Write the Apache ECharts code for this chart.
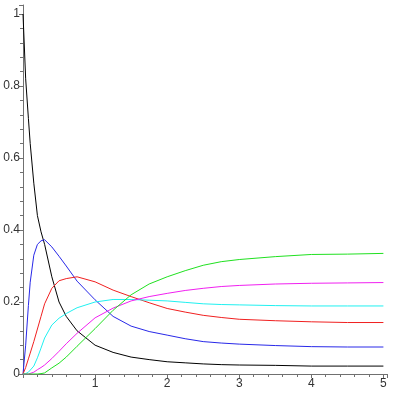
<!DOCTYPE html>
<html><head><meta charset="utf-8">
<script src="https://cdn.jsdelivr.net/npm/echarts@6/dist/echarts.min.js"></script>
<style>html,body{margin:0;padding:0;background:#fff}#c{width:393px;height:393px}</style>
</head><body><div id="c"></div>
<script>
const xs      = [0, 0.037, 0.075, 0.1, 0.15, 0.2, 0.25, 0.3, 0.4, 0.5, 0.6, 0.75, 1, 1.25, 1.5, 1.75, 2, 2.25, 2.5, 2.75, 3, 3.5, 4, 4.5, 5];
const black   = [1, 0.82, 0.71, 0.64, 0.53, 0.44, 0.395, 0.36, 0.27, 0.2, 0.16, 0.12, 0.08, 0.06, 0.047, 0.04, 0.034, 0.031, 0.028, 0.026, 0.025, 0.024, 0.022, 0.022, 0.022];
const blue    = [0, 0.08, 0.19, 0.255, 0.33, 0.36, 0.37, 0.373, 0.353, 0.327, 0.3, 0.258, 0.206, 0.16, 0.133, 0.118, 0.108, 0.098, 0.09, 0.086, 0.083, 0.079, 0.076, 0.075, 0.075];
const red     = [0, 0.018, 0.042, 0.058, 0.09, 0.125, 0.16, 0.195, 0.238, 0.259, 0.265, 0.27, 0.256, 0.233, 0.215, 0.198, 0.182, 0.172, 0.163, 0.157, 0.152, 0.148, 0.145, 0.143, 0.143];
const cyan    = [0, 0.001, 0.005, 0.008, 0.022, 0.045, 0.072, 0.1, 0.136, 0.155, 0.168, 0.184, 0.2, 0.207, 0.207, 0.205, 0.203, 0.199, 0.195, 0.193, 0.192, 0.19, 0.189, 0.189, 0.189];
const magenta = [0, 0, 0, 0, 0.005, 0.012, 0.018, 0.025, 0.043, 0.063, 0.084, 0.113, 0.156, 0.183, 0.203, 0.215, 0.224, 0.232, 0.238, 0.243, 0.246, 0.25, 0.252, 0.253, 0.254];
const green   = [0, 0, 0, 0, 0, 0, 0.001, 0.003, 0.017, 0.03, 0.047, 0.077, 0.126, 0.177, 0.22, 0.25, 0.27, 0.287, 0.302, 0.312, 0.318, 0.326, 0.332, 0.333, 0.335];
const xTickLabels = ['1', '2', '3', '4', '5'];
const yTickLabels = ['0', '0.2', '0.4', '0.6', '0.8', '1'];

const seriesDefs = [
  ['black', black, '#000000'],
  ['blue', blue, '#2828e8'],
  ['red', red, '#f02020'],
  ['cyan', cyan, '#20f0f0'],
  ['magenta', magenta, '#f020f0'],
  ['green', green, '#20e020']
];
function fmtNum(v){ return String(Math.round(v*1000)/1000); }
const chart = echarts.init(document.getElementById('c'));
chart.setOption({
  animation: false,
  backgroundColor: '#ffffff',
  grid: {left: 23, right: 6, top: 5, bottom: 19, containLabel: false},
  xAxis: {
    type: 'value', min: 0, max: 5.05, interval: 1,
    axisLine: {show: true, onZero: true, lineStyle: {color: '#707070', width: 1}},
    axisTick: {show: true, length: 4, lineStyle: {color: '#707070'}},
    minorTick: {show: true, splitNumber: 5, length: 3, lineStyle: {color: '#707070'}},
    splitLine: {show: false},
    axisLabel: {color: '#333', fontFamily: 'Liberation Sans', fontSize: 12, margin: 4,
      formatter: v => xTickLabels.includes(fmtNum(v)) ? fmtNum(v) : ''}
  },
  yAxis: {
    type: 'value', min: 0, max: 1.025, interval: 0.2,
    axisLine: {show: true, onZero: true, lineStyle: {color: '#707070', width: 1}},
    axisTick: {show: true, length: 4, lineStyle: {color: '#707070'}},
    minorTick: {show: true, splitNumber: 5, length: 3, lineStyle: {color: '#707070'}},
    splitLine: {show: false},
    axisLabel: {color: '#333', fontFamily: 'Liberation Sans', fontSize: 12, margin: 3,
      formatter: v => yTickLabels.includes(fmtNum(v)) ? fmtNum(v) : ''}
  },
  series: seriesDefs.map(([name, ys, col]) => ({
    name, type: 'line', showSymbol: false, smooth: false,
    data: xs.map((x, i) => [x, ys[i]]),
    lineStyle: {color: col, width: 1}, itemStyle: {color: col}
  }))
});
</script></body></html>
